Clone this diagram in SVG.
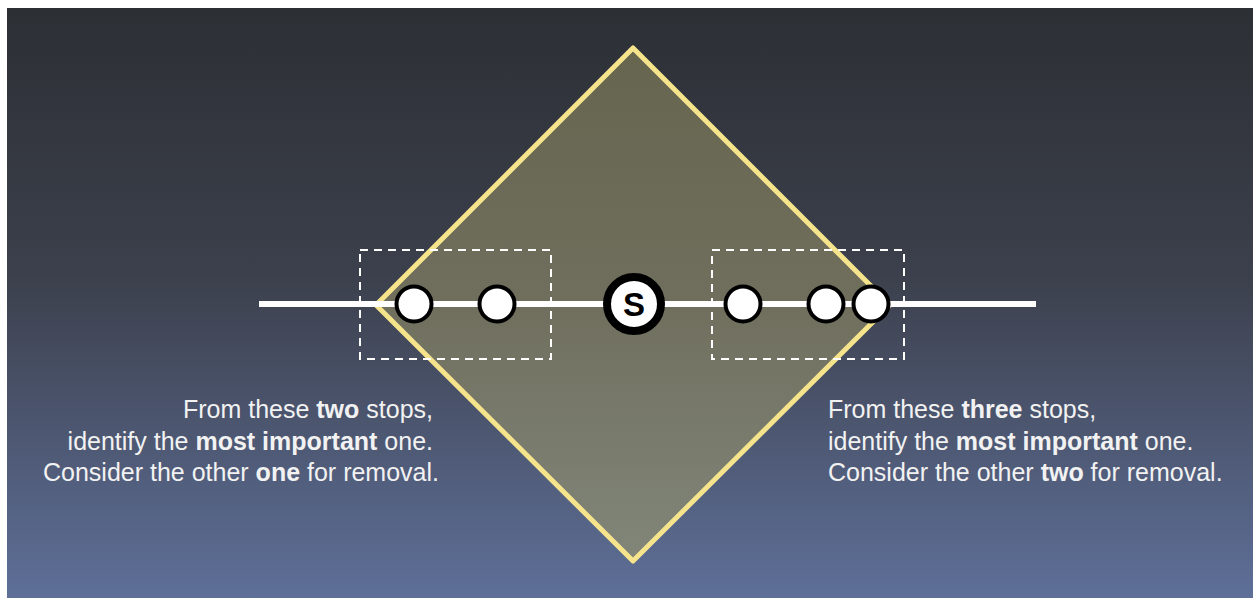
<svg xmlns="http://www.w3.org/2000/svg" width="1253" height="598" viewBox="0 0 1253 598">
<defs>
<linearGradient id="bg" x1="0" y1="0" x2="0" y2="1">
<stop offset="0" stop-color="#2c2f34"/>
<stop offset="0.45" stop-color="#3c404c"/>
<stop offset="1" stop-color="#5e6f98"/>
</linearGradient>
<linearGradient id="dia" x1="0" y1="0" x2="0" y2="1">
<stop offset="0" stop-color="#66654e"/>
<stop offset="0.5" stop-color="#706f5e"/>
<stop offset="1" stop-color="#818679"/>
</linearGradient>
<style>
.stop{fill:#ffffff;stroke:#000000;stroke-width:4}
.box{fill:none;stroke:#ffffff;stroke-width:2;stroke-dasharray:8 6}
.lbl{font-family:"Liberation Sans",Arial,sans-serif;font-size:25px;fill:#f2f2f2}
.b{font-weight:bold}
</style>
</defs>
<rect width="1253" height="598" fill="#ffffff"/>
<rect x="7" y="8" width="1246" height="590" fill="url(#bg)"/>
<g id="diamond">
<polygon points="633,48 890,305 633,561 376,305" fill="url(#dia)" stroke="#f6e48c" stroke-width="5" stroke-linejoin="round"/>
</g>
<g id="connectors">
<line x1="259" y1="304" x2="1036" y2="304" stroke="#ffffff" stroke-width="6"/>
</g>
<g id="group-left"><rect class="box" x="360" y="250" width="191" height="109"/></g>
<g id="group-right"><rect class="box" x="712" y="250" width="192" height="109"/></g>
<g id="stop1"><circle class="stop" cx="414" cy="304" r="17.5"/></g>
<g id="stop2"><circle class="stop" cx="497" cy="304" r="17.5"/></g>
<g id="stop3"><circle class="stop" cx="743" cy="304" r="17.5"/></g>
<g id="stop4"><circle class="stop" cx="826" cy="304" r="17.5"/></g>
<g id="stop5"><circle class="stop" cx="871" cy="304" r="17.5"/></g>
<g id="stationS">
<circle cx="634" cy="304" r="27" fill="#ffffff" stroke="#000000" stroke-width="8"/>
<text x="634" y="316" text-anchor="middle" font-family="Liberation Sans,Arial,sans-serif" font-weight="bold" font-size="33" fill="#000000">S</text>
</g>
<g id="label-left">
<text class="lbl" text-anchor="end" x="433" y="418">From these <tspan class="b">two</tspan> stops,</text>
<text class="lbl" text-anchor="end" x="433" y="450">identify the <tspan class="b">most important</tspan> one.</text>
<text class="lbl" text-anchor="end" x="439" y="481">Consider the other <tspan class="b">one</tspan> for removal.</text>
</g>
<g id="label-right">
<text class="lbl" x="828" y="418">From these <tspan class="b">three</tspan> stops,</text>
<text class="lbl" x="828" y="450">identify the <tspan class="b">most important</tspan> one.</text>
<text class="lbl" x="828" y="481">Consider the other <tspan class="b">two</tspan> for removal.</text>
</g>
</svg>
